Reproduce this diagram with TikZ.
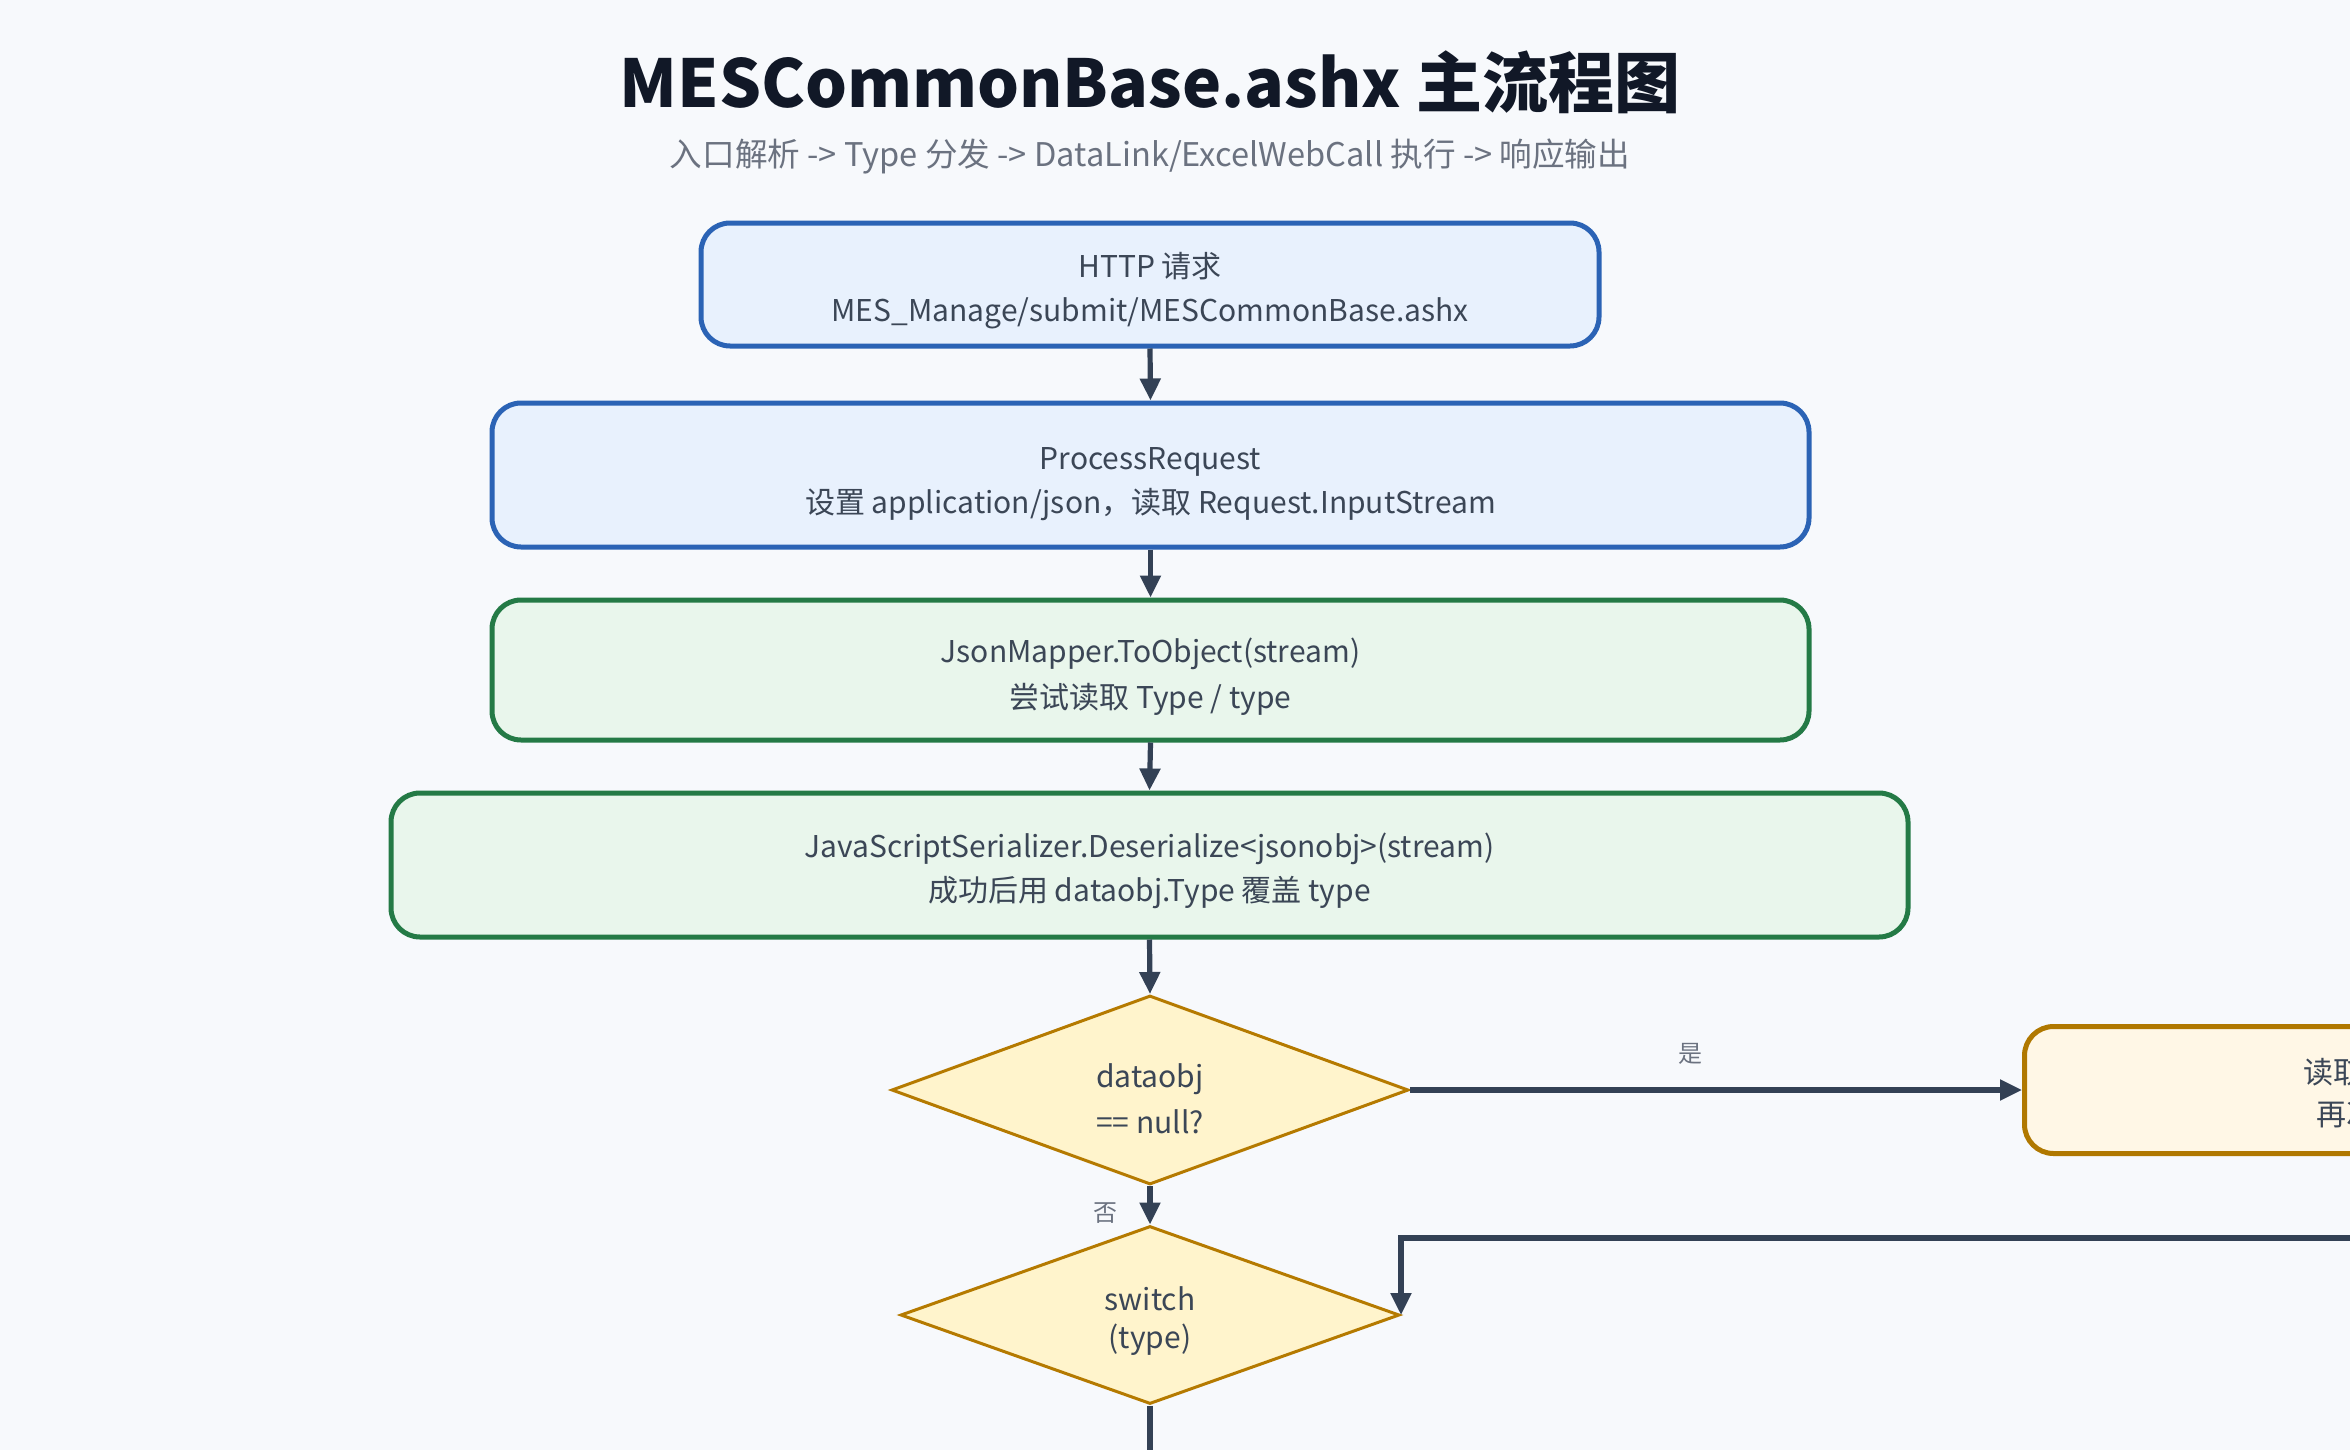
\documentclass[tikz,border=0pt]{standalone}
\usepackage{fontspec}
\setmainfont{Noto Sans CJK SC}
\usetikzlibrary{arrows.meta,shapes.geometric}
\definecolor{bgc}{HTML}{F7F9FC}
\definecolor{titlec}{HTML}{111827}
\definecolor{subc}{HTML}{6B7280}
\definecolor{txtc}{HTML}{3B4656}
\definecolor{blueb}{HTML}{2B63B5}
\definecolor{bluef}{HTML}{E8F1FD}
\definecolor{greenb}{HTML}{247A46}
\definecolor{greenf}{HTML}{E9F6EC}
\definecolor{diab}{HTML}{B57A00}
\definecolor{diaf}{HTML}{FFF4CC}
\definecolor{orab}{HTML}{B07800}
\definecolor{oraf}{HTML}{FFF7E6}
\definecolor{arrc}{HTML}{334155}
\newcommand{\dn}[1]{\rule{0pt}{#1}}
\tikzset{
  boxbase/.style={rectangle, rounded corners=14.5pt, line width=2.5pt, align=center,
    text=txtc, font=\fontsize{15}{22}\selectfont, inner sep=0pt},
  bluebox/.style={boxbase, draw=blueb, fill=bluef},
  greenbox/.style={boxbase, draw=greenb, fill=greenf},
  orabox/.style={boxbase, draw=orab, fill=oraf},
  decision/.style={diamond, aspect=2.7, draw=diab, fill=diaf, line width=1.5pt, inner sep=0pt,
    align=center, text=txtc, font=\fontsize{15}{22}\selectfont},
  conn/.style={draw=arrc, line width=2.6pt, -{Triangle[length=11pt,width=10pt]}},
  plainconn/.style={draw=arrc, line width=2.6pt},
  lab/.style={text=subc, font=\fontsize{12}{14}\selectfont, inner sep=0pt},
}
\begin{document}
\begin{tikzpicture}[x=0.5pt,y=-0.5pt]
\useasboundingbox (0,0) rectangle (2350,1450);
\clip (0,0) rectangle (2350,1450);
\fill[bgc] (0,0) rectangle (2350,1450);

\node[text=titlec, font=\bfseries\fontsize{33}{38}\selectfont, inner sep=0pt] (title) at (1150,82) {MESCommonBase.ashx 主流程图};
\node[text=subc, font=\fontsize{16.3}{20}\selectfont, inner sep=0pt] (subtitle) at (1150,156) {入口解析 -> Type 分发 -> DataLink/ExcelWebCall 执行 -> 响应输出};

\node[bluebox, minimum width=449pt, minimum height=61.5pt] (b1) at (1150,284.5)
  {\dn{19pt}HTTP 请求\\MES\_Manage/submit/MESCommonBase.ashx};
\node[bluebox, minimum width=658.5pt, minimum height=72pt] (b2) at (1150.5,475)
  {\dn{20pt}ProcessRequest\\设置 application/json，读取 Request.InputStream};
\node[greenbox, minimum width=658.5pt, minimum height=70pt] (b3) at (1150.5,670)
  {\dn{19pt}JsonMapper.ToObject(stream)\\[1pt]尝试读取 Type / type};
\node[greenbox, minimum width=758.5pt, minimum height=72pt] (b4) at (1149.5,865)
  {\dn{18pt}JavaScriptSerializer.Deserialize<jsonobj>(stream)\\成功后用 dataobj.Type 覆盖 type};

\node[decision, minimum width=258.5pt, minimum height=94.5pt] (d1) at (1150,1090)
  {\dn{21pt}dataobj\\[1pt]== null?};
\node[decision, minimum width=249.5pt, minimum height=89pt] (d2) at (1150,1315)
  {\dn{18pt}switch\\[-3pt](type)};

\node[orabox, minimum width=340pt, minimum height=63.5pt, anchor=west] (ob) at (2022,1090) {};
\node[text=txtc, font=\fontsize{15}{22}\selectfont, inner sep=0pt, anchor=west] (obt1) at (2303,1072) {读取};
\node[text=txtc, font=\fontsize{15}{22}\selectfont, inner sep=0pt, anchor=west] (obt2) at (2316,1114) {再次};

\draw[conn] (b1.south) -- (b2.north);
\draw[conn] (b2.south) -- (b3.north);
\draw[conn] (b3.south) -- (b4.north);
\draw[conn] (b4.south) -- (d1.north);
\draw[conn] (d1.east) -- node[lab, pos=0.458, yshift=18pt] (yes) {是} (ob.west);
\draw[conn] (d1.south) -- node[lab, pos=0.7, xshift=-22.5pt] (no) {否} (d2.north);

\coordinate (fbin) at (2400,1238);
\draw[conn] (fbin) -| (d2.east);
\coordinate (bottomout) at (1150,1470);
\draw[plainconn] (d2.south) -- (bottomout);
\end{tikzpicture}
\end{document}
